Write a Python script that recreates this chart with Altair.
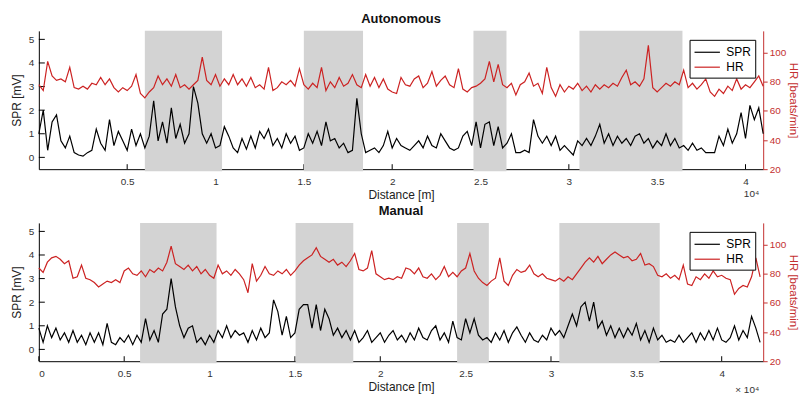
import altair as alt
import pandas as pd

STEP = 0.025  # sampling step of the traces, in 10^4 m

# shaded segments (x in 10^4 m)
auto_shade_start = [0.600, 1.500, 2.460, 3.060]
auto_shade_end = [1.037, 1.835, 2.647, 3.643]
man_shade_start = [0.593, 1.504, 2.450, 3.049]
man_shade_end = [1.041, 1.842, 2.636, 3.637]

auto_spr = [
    1.0, 2.0, 0.3, 1.5, 1.8, 0.7, 0.4, 0.9, 0.2, 0.1,
    0.05, 0.2, 0.3, 1.2, 0.6, 0.3, 1.6, 0.5, 1.1, 0.7,
    0.3, 1.2, 0.5, 1.0, 0.4, 0.9, 2.4, 0.7, 1.5, 0.6,
    2.1, 0.8, 1.4, 0.6, 1.0, 3.0, 2.3, 1.0, 0.6, 1.0,
    0.4, 0.5, 1.3, 0.9, 0.4, 0.2, 0.8, 0.35, 0.9, 0.4,
    1.1, 0.8, 1.2, 0.5, 0.8, 0.4, 1.0, 0.6, 0.9, 0.3,
    0.4, 1.0, 0.6, 1.1, 0.5, 1.5, 0.7, 0.8, 0.4, 0.6,
    0.2, 0.3, 2.5, 1.0, 0.2, 0.3, 0.4, 0.2, 0.5, 1.1,
    0.4, 0.8, 0.5, 0.4, 0.3, 0.5, 0.7, 0.4, 0.9, 0.5,
    0.4, 1.0, 0.7, 0.4, 0.3, 0.4, 0.9, 1.1, 0.5, 1.5,
    0.4, 1.4, 1.5, 0.5, 1.3, 0.4, 0.6, 1.0, 0.2, 0.2,
    0.3, 0.2, 1.6, 0.9, 0.6, 0.9, 0.5, 0.9, 0.3, 0.5,
    0.3, 0.1, 0.7, 0.5, 0.8, 0.5, 0.9, 1.4, 0.6, 1.0,
    0.5, 0.9, 0.6, 0.8, 0.5, 0.9, 1.0, 0.6, 0.8, 0.4,
    0.7, 0.5, 1.0, 0.5, 0.8, 0.4, 0.5, 0.3, 0.6, 0.3,
    0.4, 0.2, 0.2, 0.2, 0.9, 0.5, 1.2, 0.6, 1.0, 1.9,
    0.8, 2.2, 1.6, 2.1, 1.0,
]
auto_hr = [
    78, 74, 94, 84, 81, 82, 80, 90, 76, 75,
    77, 75, 79, 78, 83, 78, 82, 76, 73, 76,
    74, 77, 85, 72, 69, 73, 76, 84, 78, 82,
    77, 85, 76, 78, 75, 78, 81, 97, 81, 78,
    85, 77, 82, 78, 85, 78, 82, 77, 83, 76,
    78, 75, 90, 74, 76, 80, 78, 81, 77, 89,
    78, 75, 79, 76, 90, 74, 80, 76, 83, 77,
    79, 85, 78, 76, 85, 77, 83, 76, 82, 75,
    73, 72, 83, 78, 77, 82, 84, 76, 79, 87,
    77, 81, 84, 78, 76, 89, 75, 73, 76, 77,
    79, 82, 94, 80, 92, 78, 76, 79, 71, 78,
    80, 86, 77, 79, 72, 90, 76, 70, 78, 73,
    77, 75, 79, 74, 77, 73, 78, 75, 78, 76,
    79, 77, 83, 88, 78, 80, 77, 82, 105, 76,
    73, 76, 79, 77, 80, 78, 88, 76, 79, 75,
    78, 82, 73, 70, 75, 72, 77, 74, 82, 75,
    78, 76, 80, 84, 77,
]
man_spr = [
    0.9, 0.3, 1.0, 0.5, 0.9, 0.4, 0.7, 0.3, 0.8, 0.3,
    0.6, 0.2, 0.7, 0.3, 0.7, 0.2, 1.1, 0.3, 0.2, 0.5,
    0.3, 0.6, 0.2, 0.6, 0.3, 1.3, 0.4, 0.8, 0.3, 1.5,
    1.7, 3.0, 1.8, 1.0, 0.5, 0.9, 1.0, 0.3, 0.5, 0.2,
    0.6, 0.3, 0.8, 0.5, 1.0, 0.5, 0.8, 0.6, 0.7, 0.3,
    0.8, 0.4, 0.9, 0.5, 0.7, 2.1, 1.6, 0.6, 1.4, 0.5,
    0.7, 1.7, 1.9, 1.9, 0.9, 1.9, 0.8, 1.7, 1.3, 0.6,
    0.9, 0.5, 0.8, 0.4, 0.8, 0.3, 0.5, 0.8, 0.3, 0.5,
    0.7, 0.3, 0.6, 0.8, 0.4, 0.6, 0.3, 0.7, 0.4, 0.9,
    0.5, 0.4, 0.8, 1.0, 0.4, 0.7, 0.3, 1.2, 0.5, 0.4,
    1.3, 0.7, 1.3, 0.6, 0.4, 0.5, 0.3, 0.7, 0.4, 0.8,
    0.3, 0.7, 0.95, 0.6, 0.3, 0.7, 0.4, 0.3, 0.6, 0.4,
    0.9, 0.6, 0.8, 0.5, 1.0, 1.5, 1.0, 1.8, 2.0, 1.2,
    2.0, 0.9, 1.2, 0.6, 1.0, 0.5, 0.9, 0.5, 0.9, 0.6,
    1.1, 0.4, 0.8, 0.3, 0.9, 0.4, 0.6, 0.3, 0.4, 0.3,
    0.6, 0.3, 0.5, 0.7, 0.3, 0.7, 0.4, 0.8, 0.4, 0.9,
    0.4, 0.3, 0.5, 1.0, 0.4, 0.8, 0.5, 1.4, 0.9, 0.3,
]
man_hr = [
    84, 81, 88, 91, 92, 90, 87, 89, 77, 78,
    86, 77, 76, 74, 71, 73, 75, 74, 76, 74,
    82, 84, 80, 79, 82, 78, 83, 81, 84, 82,
    88, 99, 87, 85, 83, 86, 82, 85, 80, 83,
    79, 77, 86, 80, 82, 79, 83, 80, 76, 67,
    87, 75, 79, 85, 80, 79, 82, 80, 83, 79,
    82, 86, 89, 91, 93, 98, 92, 90, 88, 90,
    86, 88, 85, 89, 94, 83, 82, 84, 96, 80,
    78, 76, 77, 76, 78, 77, 84, 83, 80, 84,
    78, 77, 80, 76, 79, 85, 78, 81, 78, 82,
    84, 94, 82, 77, 74, 72, 75, 77, 91, 75,
    72, 79, 83, 81, 82, 86, 80, 78, 80, 77,
    76, 75, 77, 75, 78, 76, 80, 84, 88, 91,
    88, 92, 87, 90, 93, 95, 93, 91, 92, 89,
    90, 94, 86, 87, 85, 79, 78, 80, 77, 79,
    76, 86, 73, 72, 78, 76, 80, 77, 82, 78,
    79, 77, 76, 66, 70, 72, 71, 78, 91, 78,
]

x_ticks_auto = [0.5, 1, 1.5, 2, 2.5, 3, 3.5, 4]
x_ticks_man = [0, 0.5, 1, 1.5, 2, 2.5, 3, 3.5, 4]
spr_ticks = [0, 1, 2, 3, 4, 5]
hr_ticks = [20, 40, 60, 80, 100]
series_names = ["SPR", "HR"]

W, H = 728, 139
FONT = "Liberation Sans"
RED = "#cc2222"
AXRED = "#c43030"
SPR_DOMAIN = [-0.5, 5.36]
HR_DOMAIN = [20, 115]

color_scale = alt.Scale(domain=series_names, range=["black", RED])


def panel(title, spr, hr, shade_s, shade_e, xmax, xticks, exp_text, exp_dy):
    n = len(spr)
    dist = [round(i * STEP, 4) for i in range(n)]
    df = pd.DataFrame({"dist": dist, "SPR": spr, "HR": hr,
                       "s1": series_names[0], "s2": series_names[1]})
    xs = alt.Scale(domain=[0, xmax], nice=False, zero=False)
    xaxis = alt.Axis(values=xticks, format="~g", title="Distance [m]",
                     ticks=False, labelPadding=7, labelFontSize=10,
                     labelColor="#333", titleFontSize=12, titleFontWeight="normal",
                     titlePadding=3, titleColor="#222", domainColor="black",
                     grid=False, zindex=0)
    legend = alt.Legend(title=None, orient="none", legendX=654, legendY=9,
                        strokeColor="black", fillColor="white", padding=4,
                        symbolType="M-1,0H2.4", symbolSize=225,
                        symbolStrokeWidth=1.2, labelFontSize=12, labelFont=FONT,
                        labelColor="black", rowPadding=0, labelOffset=16)

    xtick_rules = alt.Chart(pd.DataFrame({"t": xticks})).mark_rule(
        color="black", strokeWidth=1).encode(
        x=alt.X("t:Q", scale=xs, axis=xaxis),
        y=alt.value(H - 5), y2=alt.value(H))

    shade = alt.Chart(pd.DataFrame({"a": shade_s, "b": shade_e})).mark_rect(
        color="#d3d3d3").encode(
        x=alt.X("a:Q", scale=xs), x2="b:Q",
        y=alt.value(0), y2=alt.value(H + 2))

    ys = alt.Scale(domain=SPR_DOMAIN, nice=False, zero=False)
    spr_axis = alt.Axis(orient="left", values=spr_ticks, ticks=False,
                        labelPadding=5, labelFontSize=10, labelColor="#333",
                        title="SPR [mV]", titleFontSize=12,
                        titleFontWeight="normal", titleColor="#222",
                        titlePadding=5, domainColor="black", grid=False,
                        zindex=0)
    spr_line = alt.Chart(df).mark_line(strokeWidth=1.2).encode(
        x=alt.X("dist:Q", scale=xs),
        y=alt.Y("SPR:Q", scale=ys, axis=spr_axis),
        color=alt.Color("s1:N", scale=color_scale, legend=legend))
    spr_tick_rules = alt.Chart(pd.DataFrame({"SPR": spr_ticks})).mark_rule(
        color="black").encode(
        y=alt.Y("SPR:Q", scale=ys, axis=spr_axis),
        x=alt.value(0), x2=alt.value(6))
    spr_group = alt.layer(spr_line, spr_tick_rules)

    hs = alt.Scale(domain=HR_DOMAIN, nice=False, zero=False)
    hr_line = alt.Chart(df).mark_line(strokeWidth=1.2).encode(
        x=alt.X("dist:Q", scale=xs),
        y=alt.Y("HR:Q", scale=hs,
                axis=alt.Axis(orient="right", values=hr_ticks, tickSize=4,
                              tickColor=AXRED, domainColor=AXRED,
                              labelColor=AXRED, labelPadding=2, labelFontSize=10,
                              title="HR [beats/min]", titleColor=AXRED,
                              titleFontSize=11.5, titleFontWeight="normal",
                              titlePadding=2, grid=False, zindex=0)),
        color=alt.Color("s2:N", scale=color_scale, legend=legend))

    exp = alt.Chart(pd.DataFrame({"t": [exp_text]})).mark_text(
        align="right", baseline="middle", fontSize=10, color="#333",
        font=FONT).encode(text="t:N", x=alt.value(W - 4), y=alt.value(H + exp_dy))

    return alt.layer(xtick_rules, shade, spr_group, hr_line, exp).resolve_scale(
        y="independent").properties(
        width=W, height=H,
        title=alt.Title(title, fontSize=13, fontWeight="bold", font=FONT,
                        color="#111", offset=5, anchor="middle"))


top = panel("Autonomous", auto_spr, auto_hr, auto_shade_start, auto_shade_end,
            4.1, x_ticks_auto, "10⁴", 25)
bottom = panel("Manual", man_spr, man_hr, man_shade_start, man_shade_end,
               4.243, x_ticks_man, "× 10⁴", 29)

chart = alt.vconcat(top, bottom, spacing=5).resolve_scale(
    color="independent").resolve_legend(color="independent").properties(
    padding={"left": 2, "top": 4, "right": 0, "bottom": 0}
).configure(font=FONT).configure_view(stroke=None)

chart.save("out.html", embed_options={"renderer": "svg", "actions": False})
